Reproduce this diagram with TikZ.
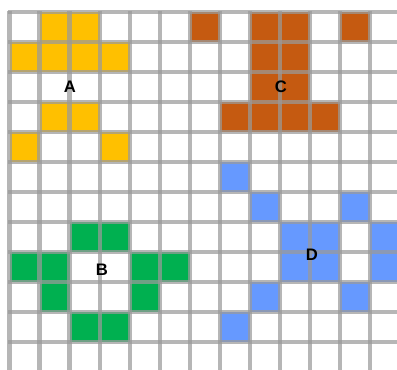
\documentclass[tikz,border=0pt]{standalone}
\usepackage{fontspec}
\setmainfont{Liberation Sans}
\definecolor{cA}{HTML}{FFC000}
\definecolor{cB}{HTML}{00B050}
\definecolor{cC}{HTML}{C55A11}
\definecolor{cD}{HTML}{6699FF}
\definecolor{gridc}{HTML}{9A9A9A}
\tikzset{
  gridline/.style={draw=gridc, line width=3.2pt, opacity=0.72},
  lab/.style={font=\fontsize{12.5}{14}\selectfont\bfseries, text=black, inner sep=0pt}
}
\begin{document}
\begin{tikzpicture}[x=0.75pt,y=-0.75pt]
\useasboundingbox (0,0) rectangle (397,369);
\clip (0,0) rectangle (397,369);
\fill[white] (0,0) rectangle (397,369);
% A (yellow)
\foreach \c/\r in {1/0,2/0,0/1,1/1,2/1,3/1,1/3,2/3,0/4,3/4}
  \fill[cA] ({9.5+30.05*\c},{12+30*\r}) rectangle ++(30.05,30);
% C (orange)
\foreach \c/\r in {6/0,8/0,9/0,11/0,8/1,9/1,8/2,9/2,7/3,8/3,9/3,10/3}
  \fill[cC] ({9.5+30.05*\c},{12+30*\r}) rectangle ++(30.05,30);
% B (green)
\foreach \c/\r in {2/7,3/7,0/8,1/8,4/8,5/8,1/9,4/9,2/10,3/10}
  \fill[cB] ({9.5+30.05*\c},{12+30*\r}) rectangle ++(30.05,30);
% D (blue)
\foreach \c/\r in {7/5,8/6,11/6,9/7,10/7,12/7,9/8,10/8,12/8,8/9,11/9,7/10}
  \fill[cD] ({9.5+30.05*\c},{12+30*\r}) rectangle ++(30.05,30);
% grid
\foreach \i in {0,...,13}
  \draw[gridline] ({9.5+30.05*\i},10.5) -- ({9.5+30.05*\i},380);
\foreach \j in {0,...,12}
  \draw[gridline] (8,{12+30*\j}) -- (410,{12+30*\j});
% labels
\node[lab] (A) at (70,87) {A};
\node[lab] (C) at (281,87) {C};
\node[lab] (B) at (102,270) {B};
\node[lab] (D) at (312,255) {D};
\end{tikzpicture}
\end{document}
